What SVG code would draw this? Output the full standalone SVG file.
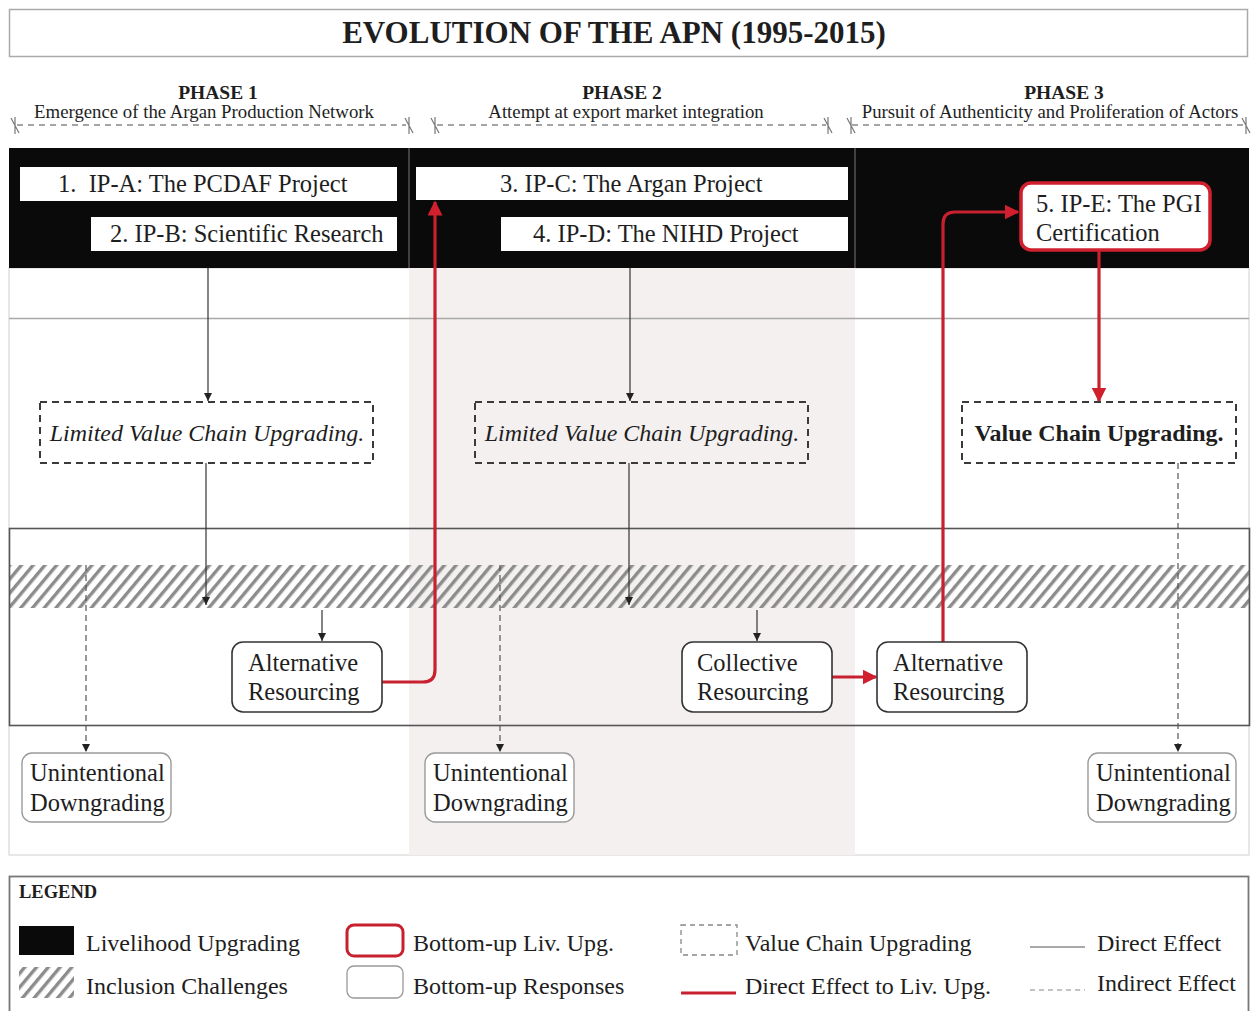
<svg xmlns="http://www.w3.org/2000/svg" width="1251" height="1011" viewBox="0 0 1251 1011">
  <style>
    text { font-family: "Liberation Serif", "Times New Roman", serif; fill: #1e1e1e; }
    .title { font-size: 31px; font-weight: bold; }
    .phase { font-size: 19.5px; font-weight: bold; }
    .sub { font-size: 18.8px; }
    .lbl { font-size: 24.5px; }
    .vcu { font-size: 24px; font-style: italic; }
    .vcub { font-size: 24px; font-weight: bold; }
    .leg { font-size: 24px; }
    .ip { fill: #ffffff; stroke: none; }
    .resp { fill: #ffffff; stroke: #333; stroke-width: 1.6; }
    .down { fill: #ffffff; stroke: #9a9a9a; stroke-width: 1.4; }
    .dbox { fill: none; stroke: #3a3a3a; stroke-width: 2; stroke-dasharray: 7 5; }
    .direct { fill: none; stroke: #333; stroke-width: 1.2; }
    .indirect { fill: none; stroke: #555; stroke-width: 1.2; stroke-dasharray: 6 4; }
    .red { fill: none; stroke: #c8202e; stroke-width: 3.2; }
    .span { fill: none; stroke: #888; stroke-width: 1.5; stroke-dasharray: 6 5; }
    .tick { fill: none; stroke: #777; stroke-width: 1.2; }
  </style>
  <defs>
    <pattern id="hatch" patternUnits="userSpaceOnUse" width="9" height="9" patternTransform="rotate(40)">
      <rect x="0" y="0" width="3.4" height="9" fill="#8c8c8c"/>
    </pattern>
    <marker id="ah" viewBox="0 0 10 10" refX="10" refY="5" markerWidth="8" markerHeight="8" markerUnits="userSpaceOnUse" orient="auto">
      <path d="M0,0 L10,5 L0,10 Z" fill="#222"/>
    </marker>
    <marker id="ahr" viewBox="0 0 10 10" refX="9" refY="5" markerWidth="15" markerHeight="15" markerUnits="userSpaceOnUse" orient="auto">
      <path d="M0,0 L10,5 L0,10 Z" fill="#d0202e"/>
    </marker>
  </defs>

  <rect x="0" y="0" width="1251" height="1011" fill="#ffffff"/>

  <!-- title -->
  <g id="title">
    <rect x="9.5" y="9.5" width="1238" height="47" fill="#fff" stroke="#aaa" stroke-width="1.5"/>
    <text class="title" x="614" y="43" text-anchor="middle">EVOLUTION OF THE APN (1995-2015)</text>
  </g>

  <!-- phase headers with span lines -->
  <g id="phase1">
    <text class="phase" x="218" y="99" text-anchor="middle">PHASE 1</text>
    <text class="sub" x="204" y="118" text-anchor="middle">Emergence of the Argan Production Network</text>
    <line class="span" x1="17" y1="125" x2="406" y2="125"/>
    <path class="tick" d="M15,117 V134 M11,118 L19,133 M409,117 V134 M405,118 L413,133"/>
  </g>
  <g id="phase2">
    <text class="phase" x="622" y="99" text-anchor="middle">PHASE 2</text>
    <text class="sub" x="626" y="118" text-anchor="middle">Attempt at export market integration</text>
    <line class="span" x1="437" y1="125" x2="826" y2="125"/>
    <path class="tick" d="M435,117 V134 M431,118 L439,133 M828,117 V134 M824,118 L832,133"/>
  </g>
  <g id="phase3">
    <text class="phase" x="1064" y="99" text-anchor="middle">PHASE 3</text>
    <text class="sub" x="1050" y="118" text-anchor="middle">Pursuit of Authenticity and Proliferation of Actors</text>
    <line class="span" x1="852" y1="125" x2="1244" y2="125"/>
    <path class="tick" d="M851,117 V134 M847,118 L855,133 M1246,117 V134 M1242,118 L1250,133"/>
  </g>

  <!-- background bands -->
  <g id="bands">
    <rect x="9" y="268" width="1240" height="587" fill="#ffffff" stroke="#d8d8d8" stroke-width="1.2"/>
    <rect x="409" y="268" width="446" height="587" fill="#f3f0ef"/>
    <rect x="9" y="148" width="1240" height="120" fill="#0a0a0a"/>
    <line x1="409" y1="148" x2="409" y2="268" stroke="#777" stroke-width="1"/>
    <line x1="855" y1="148" x2="855" y2="268" stroke="#777" stroke-width="1"/>
    <line x1="9" y1="318.5" x2="1249" y2="318.5" stroke="#a8a8a8" stroke-width="1.6"/>
    <rect x="9" y="565" width="1240" height="43" fill="url(#hatch)"/>
    <rect x="9.5" y="528.5" width="1240" height="197" fill="none" stroke="#555" stroke-width="1.6"/>
  </g>

  <!-- connectors -->
  <g id="connectors">
    <line class="direct" x1="208" y1="268" x2="208" y2="401" marker-end="url(#ah)"/>
    <line class="direct" x1="206" y1="463" x2="206" y2="605" marker-end="url(#ah)"/>
    <line class="direct" x1="322" y1="610" x2="322" y2="641" marker-end="url(#ah)"/>
    <line class="direct" x1="630" y1="268" x2="630" y2="401" marker-end="url(#ah)"/>
    <line class="direct" x1="629" y1="463" x2="629" y2="605" marker-end="url(#ah)"/>
    <line class="direct" x1="757" y1="610" x2="757" y2="641" marker-end="url(#ah)"/>
    <line class="indirect" x1="86" y1="565" x2="86" y2="752" marker-end="url(#ah)"/>
    <line class="indirect" x1="500" y1="565" x2="500" y2="752" marker-end="url(#ah)"/>
    <line class="indirect" x1="1178" y1="463" x2="1178" y2="752" marker-end="url(#ah)"/>
    <path class="red" d="M382,682 H423 Q435,682 435,670 V202" marker-end="url(#ahr)"/>
    <path class="red" d="M832,677 H876" marker-end="url(#ahr)"/>
    <path class="red" d="M943,642 V224 Q943,212 955,212 H1018" marker-end="url(#ahr)"/>
    <path class="red" d="M1099,251 V401" marker-end="url(#ahr)"/>
  </g>

  <!-- intervention projects -->
  <g id="ip-a">
    <rect class="ip" x="20" y="167" width="377" height="34"/>
    <text class="lbl" x="58" y="192" xml:space="preserve">1.  IP-A: The PCDAF Project</text>
  </g>
  <g id="ip-b">
    <rect class="ip" x="91" y="217" width="306" height="34"/>
    <text class="lbl" x="110" y="242">2. IP-B: Scientific Research</text>
  </g>
  <g id="ip-c">
    <rect class="ip" x="416" y="167" width="432" height="33"/>
    <text class="lbl" x="500" y="192">3. IP-C: The Argan Project</text>
  </g>
  <g id="ip-d">
    <rect class="ip" x="501" y="217" width="347" height="34"/>
    <text class="lbl" x="533" y="242">4. IP-D: The NIHD Project</text>
  </g>
  <g id="ip-e">
    <rect x="1021" y="183" width="189" height="67" rx="10" fill="#fff" stroke="#d0202e" stroke-width="3.5"/>
    <text class="lbl" x="1036" y="212">5. IP-E: The PGI</text>
    <text class="lbl" x="1036" y="241">Certification</text>
  </g>

  <!-- value chain outcomes -->
  <g id="vcu-1">
    <rect class="dbox" x="40" y="402" width="333" height="61" fill="none"/>
    <text class="vcu" x="207" y="441" text-anchor="middle">Limited Value Chain Upgrading.</text>
  </g>
  <g id="vcu-2">
    <rect class="dbox" x="475" y="402" width="333" height="61"/>
    <text class="vcu" x="642" y="441" text-anchor="middle">Limited Value Chain Upgrading.</text>
  </g>
  <g id="vcu-3">
    <rect class="dbox" x="962" y="402" width="274" height="61"/>
    <text class="vcub" x="1099" y="441" text-anchor="middle">Value Chain Upgrading.</text>
  </g>

  <!-- bottom-up responses -->
  <g id="alt-res-1">
    <rect class="resp" x="232" y="642" width="150" height="70" rx="11"/>
    <text class="lbl" x="248" y="671">Alternative</text>
    <text class="lbl" x="248" y="700">Resourcing</text>
  </g>
  <g id="coll-res">
    <rect class="resp" x="682" y="642" width="150" height="70" rx="11"/>
    <text class="lbl" x="697" y="671">Collective</text>
    <text class="lbl" x="697" y="700">Resourcing</text>
  </g>
  <g id="alt-res-2">
    <rect class="resp" x="877" y="642" width="150" height="70" rx="11"/>
    <text class="lbl" x="893" y="671">Alternative</text>
    <text class="lbl" x="893" y="700">Resourcing</text>
  </g>

  <!-- downgrading outcomes -->
  <g id="down-1">
    <rect class="down" x="22" y="753" width="149" height="69" rx="10"/>
    <text class="lbl" x="30" y="781">Unintentional</text>
    <text class="lbl" x="30" y="811">Downgrading</text>
  </g>
  <g id="down-2">
    <rect class="down" x="425" y="753" width="149" height="69" rx="10"/>
    <text class="lbl" x="433" y="781">Unintentional</text>
    <text class="lbl" x="433" y="811">Downgrading</text>
  </g>
  <g id="down-3">
    <rect class="down" x="1088" y="753" width="148" height="69" rx="10"/>
    <text class="lbl" x="1096" y="781">Unintentional</text>
    <text class="lbl" x="1096" y="811">Downgrading</text>
  </g>

  <!-- legend -->
  <g id="legend">
    <rect x="9.5" y="876.5" width="1239" height="140" fill="#fff" stroke="#777" stroke-width="1.8"/>
    <text x="19" y="898" style="font-size:18.5px;font-weight:bold">LEGEND</text>
    <rect x="19" y="926" width="55" height="29" fill="#0a0a0a"/>
    <text class="leg" x="86" y="951">Livelihood Upgrading</text>
    <rect x="19" y="967" width="55" height="31" fill="url(#hatch)"/>
    <text class="leg" x="86" y="994">Inclusion Challenges</text>
    <rect x="347" y="925" width="56" height="31" rx="7" fill="#fff" stroke="#c8202e" stroke-width="3"/>
    <text class="leg" x="413" y="951">Bottom-up Liv. Upg.</text>
    <rect x="347" y="966" width="56" height="32" rx="7" fill="#fff" stroke="#999" stroke-width="1.3"/>
    <text class="leg" x="413" y="994">Bottom-up Responses</text>
    <rect x="681" y="925" width="56" height="30" fill="none" stroke="#888" stroke-width="1.3" stroke-dasharray="5 4"/>
    <text class="leg" x="745" y="951">Value Chain Upgrading</text>
    <line x1="681" y1="993" x2="736" y2="993" stroke="#c8202e" stroke-width="3"/>
    <text class="leg" x="745" y="994">Direct Effect to Liv. Upg.</text>
    <line x1="1030" y1="947" x2="1085" y2="947" stroke="#555" stroke-width="1.2"/>
    <text class="leg" x="1097" y="951">Direct Effect</text>
    <line x1="1030" y1="990" x2="1085" y2="990" stroke="#888" stroke-width="1.2" stroke-dasharray="5 4"/>
    <text class="leg" x="1097" y="991">Indirect Effect</text>
  </g>
</svg>
